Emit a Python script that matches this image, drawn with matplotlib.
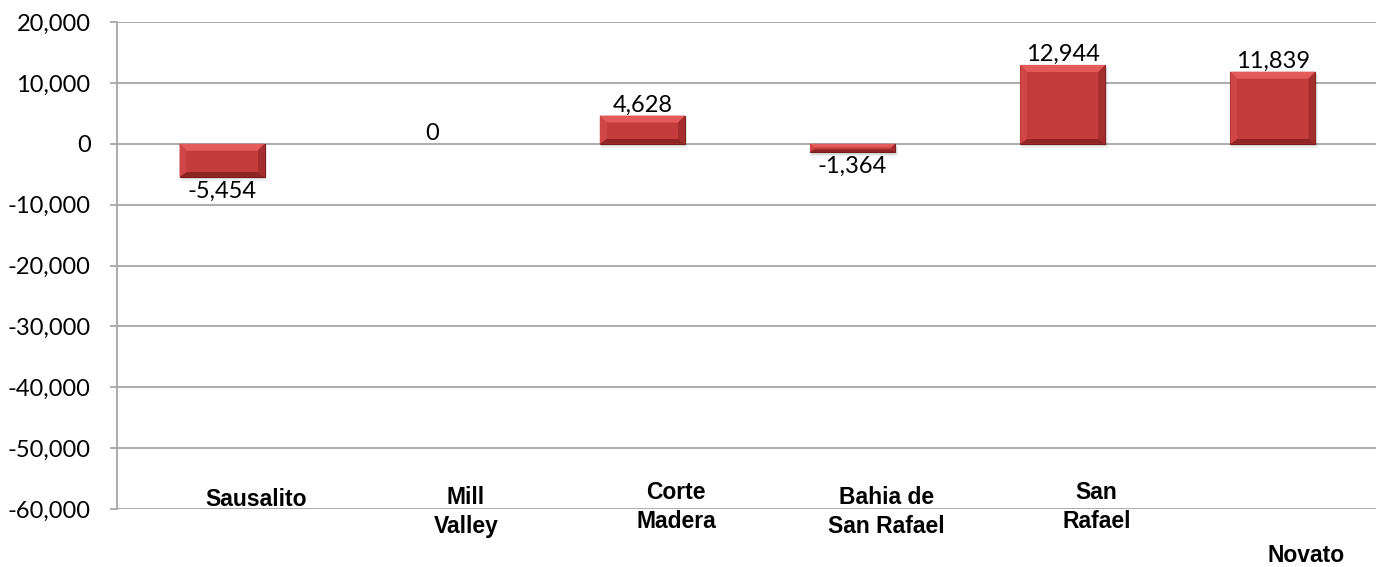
import matplotlib
matplotlib.use('Agg')
import matplotlib.pyplot as plt
import numpy as np
from matplotlib.patches import Polygon
from matplotlib.ticker import FuncFormatter

# data
categories = ['Sausalito', 'Mill\nValley', 'Corte\nMadera', 'Bahia de\nSan Rafael', 'San\nRafael', 'Novato']
values = [-5454, 0, 4628, -1364, 12944, 11839]
yticks = [-60000, -50000, -40000, -30000, -20000, -10000, 0, 10000, 20000]

# layout of the odd category labels (figure pixel y of text centre)
label_y_px = [500, 512, 507, 512, 507, 555]
label_dx = 0.16

W, H = 1376, 567
fig = plt.figure(figsize=(W / 100, H / 100), dpi=100)
ax = fig.add_axes([117 / W, 1 - 509 / H, (1378 - 117) / W, (509 - 22) / H])

x = np.arange(len(categories))
barWidth = 0.405
bars = ax.bar(x, values, width=barWidth, color='#c23a3b', edgecolor='#7a1c1c',
              linewidth=[0.8 if v != 0 else 0 for v in values], zorder=3)

ax.set_xlim(-0.5, len(categories) - 0.5)
ax.set_ylim(-60000, 20000)
ax.set_yticks(yticks)
ax.yaxis.set_major_formatter(FuncFormatter(lambda v, p: '{:,.0f}'.format(v)))
ax.set_xticks([])
ax.grid(axis='y', color='#a6a6a6', linewidth=1.3, zorder=0)
for s in ['top', 'right', 'bottom']:
    ax.spines[s].set_visible(False)
ax.spines['left'].set_color('#a6a6a6')
ax.spines['left'].set_linewidth(1.3)
ax.tick_params(axis='y', length=5, width=1.3, color='#a6a6a6', labelsize=17, pad=14)
for t in ax.get_yticklabels():
    t.set_family(['Lato', 'DejaVu Sans'])

# bevel on each bar, bevel size in pixels
fig.canvas.draw()
bevel = 7
toPix = ax.transData
toData = ax.transData.inverted()
for b, v in zip(bars, values):
    if v == 0:
        continue
    x0, x1 = b.get_x(), b.get_x() + b.get_width()
    y0, y1 = min(0, v), max(0, v)
    (px0, py0), (px1, py1) = toPix.transform([(x0, y0), (x1, y1)])
    # soft shadow under the bar
    for k, a in [(4, 0.06), (2.5, 0.08), (1.2, 0.10)]:
        sh = [(px0 + 1, py0 - k), (px1 + k * 0.6, py0 - k), (px1 + k * 0.6, py1 - 2), (px0 + 1, py1 - 2)]
        ax.add_patch(Polygon(toData.transform(sh), closed=True, facecolor='black', alpha=a,
                             edgecolor='none', zorder=2.5))
    bv = min(bevel, (py1 - py0) / 2.2)
    inner = [(px0 + bv, py0 + bv * 0.7), (px1 - bv, py0 + bv * 0.7), (px1 - bv, py1 - bv), (px0 + bv, py1 - bv)]
    outer = [(px0, py0), (px1, py0), (px1, py1), (px0, py1)]
    sides = [
        ([outer[3], outer[2], inner[2], inner[3]], '#e35b5b'),  # top
        ([outer[0], outer[1], inner[1], inner[0]], '#8e2424'),  # bottom
        ([outer[0], outer[3], inner[3], inner[0]], '#d04646'),  # left
        ([outer[1], outer[2], inner[2], inner[1]], '#a42d2d'),  # right
    ]
    for pts, col in sides:
        ax.add_patch(Polygon(toData.transform(pts), closed=True, facecolor=col, edgecolor='none', zorder=4))
    ax.add_patch(Polygon(toData.transform(inner), closed=True, facecolor='#c53c3d', edgecolor='none', zorder=4))

# value labels
for xi, v in zip(x, values):
    if v >= 0:
        ax.annotate('{:,.0f}'.format(v), (xi, v), xytext=(0, 0), textcoords='offset points',
                    ha='center', va='bottom', fontsize=17, family=['Lato', 'DejaVu Sans'], zorder=5)
    else:
        ax.annotate('{:,.0f}'.format(v), (xi, v), xytext=(0, -3), textcoords='offset points',
                    ha='center', va='top', fontsize=17, family=['Lato', 'DejaVu Sans'], zorder=5)

# category labels
for xi, lab, ypx in zip(x, categories, label_y_px):
    xf = fig.transFigure.inverted().transform(toPix.transform((xi + label_dx, 0)))[0]
    fig.text(xf, 1 - ypx / H, lab, ha='center', va='center',
             fontsize=16.5, fontweight='bold', family=['Liberation Sans', 'DejaVu Sans'], linespacing=1.3)

fig.savefig('out.png', dpi=100)
